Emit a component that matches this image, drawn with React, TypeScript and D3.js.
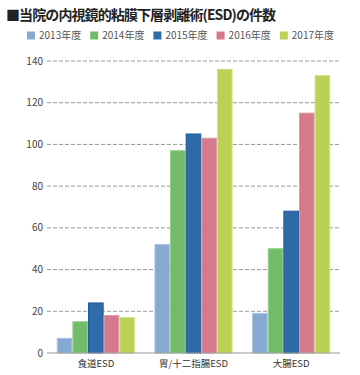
import React from "react";
import * as d3 from "d3";

const categories = ["食道ESD", "胃/十二指腸ESD", "大腸ESD"];
const seriesNames = ["2013年度", "2014年度", "2015年度", "2016年度", "2017年度"];
const v2013 = [7, 52, 19];
const v2014 = [15, 97, 50];
const v2015 = [24, 105, 68];
const v2016 = [18, 103, 115];
const v2017 = [17, 136, 133];
const seriesValues = [v2013, v2014, v2015, v2016, v2017];
const yTicks = [0, 20, 40, 60, 80, 100, 120, 140];
const colors = ["#86a9d2", "#72bb6b", "#2f6ba9", "#d47a8b", "#b9d256"];
const strokes = ["#a9c3e2", "#94cf8e", "#1f5a99", "#e09aa7", "#cfe28a"];

const W = 360;
const H = 375;
const left = 47;
const right = 340;
const top = 61;
const bottom = 353;

export default function App() {
  const x = d3.scaleBand<string>().domain(categories).range([left, right]).paddingInner(0.2).paddingOuter(0.1);
  const x1 = d3.scaleBand<string>().domain(seriesNames).range([0, x.bandwidth()]).padding(0);
  const y = d3.scaleLinear().domain([0, 140]).range([bottom, top]);
  const font = "'Noto Sans CJK JP', 'Noto Sans', sans-serif";
  return (
    <svg width={W} height={H} style={{ position: "absolute", left: 0, top: 0 }} fontFamily={font}>
      <rect x={0} y={0} width={W} height={H} fill="#fff" />
      <text x={6} y={20} fontSize={14} fontWeight="bold" fill="#222" letterSpacing={-0.9}>■当院の内視鏡的粘膜下層剥離術(ESD)の件数</text>
      {seriesNames.map((s, i) => (
        <g key={s} transform={`translate(${27 + i * 63.2},0)`}>
          <rect x={0} y={31.5} width={8} height={8} fill={colors[i]} />
          <text x={12} y={39} fontSize={10} fill="#555">{s}</text>
        </g>
      ))}
      {yTicks.map((t) => (
        <g key={t}>
          {t > 0 && (
            <line x1={left} x2={right} y1={y(t)} y2={y(t)} stroke="#999" strokeWidth={1} strokeDasharray="4,2" />
          )}
          <text x={43} y={y(t) + 3.5} fontSize={10} textAnchor="end" fill="#444">{t}</text>
        </g>
      ))}
      {categories.map((c, ci) => (
        <g key={c} transform={`translate(${x(c)},0)`}>
          {seriesNames.map((s, si) => {
            const v = seriesValues[si][ci];
            return (
              <rect key={s} x={(x1(s) as number) + 0.5} y={y(v)} width={x1.bandwidth() - 1} height={bottom - y(v)}
                fill={colors[si]} stroke={strokes[si]} strokeWidth={1} />
            );
          })}
          <text x={x.bandwidth() / 2} y={367} fontSize={9.5} textAnchor="middle" fill="#333">{c}</text>
        </g>
      ))}
      <line x1={left} x2={right} y1={bottom} y2={bottom} stroke="#999" strokeWidth={1.2} />
    </svg>
  );
}
